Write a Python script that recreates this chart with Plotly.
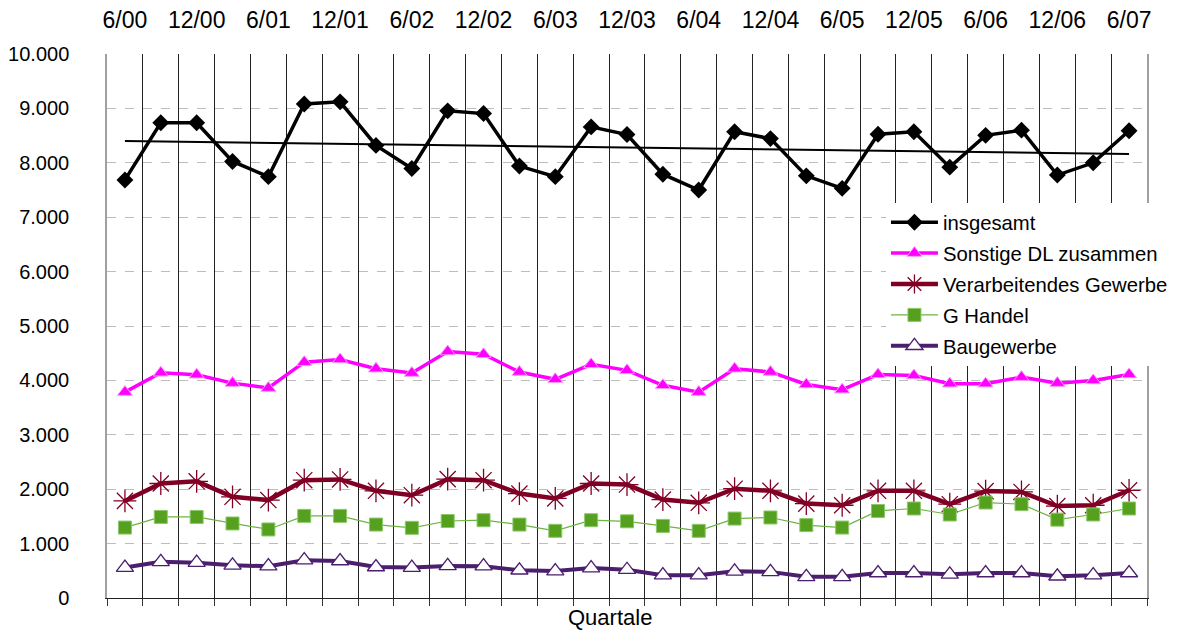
import numpy as np
import plotly.graph_objects as go

quarters = [
    "6/00", "9/00", "12/00", "3/01", "6/01", "9/01", "12/01", "3/02",
    "6/02", "9/02", "12/02", "3/03", "6/03", "9/03", "12/03", "3/04",
    "6/04", "9/04", "12/04", "3/05", "6/05", "9/05", "12/05", "3/06",
    "6/06", "9/06", "12/06", "3/07", "6/07",
]

insgesamt = [
    7685, 8735, 8735, 8025, 7745, 9080, 9120, 8320, 7895, 8955,
    8905, 7940, 7745, 8660, 8520, 7790, 7500, 8570, 8445, 7760,
    7530, 8525, 8570, 7920, 8505, 8600, 7775, 8000, 8590,
]
sonstige_dl = [
    3785, 4140, 4105, 3950, 3860, 4335, 4385, 4215, 4135, 4530,
    4480, 4155, 4020, 4295, 4185, 3910, 3785, 4215, 4155, 3925,
    3830, 4110, 4090, 3940, 3940, 4060, 3950, 4000, 4110,
]
verarbeitendes = [
    1785, 2105, 2145, 1860, 1800, 2165, 2180, 1970, 1890, 2185,
    2165, 1920, 1830, 2105, 2085, 1810, 1750, 2010, 1970, 1735,
    1705, 1970, 1970, 1725, 1965, 1950, 1690, 1705, 1980,
]
handel = [
    1295, 1490, 1490, 1370, 1260, 1510, 1510, 1350, 1290, 1415,
    1430, 1350, 1235, 1430, 1410, 1325, 1235, 1460, 1480, 1340,
    1295, 1600, 1645, 1535, 1755, 1725, 1440, 1535, 1645,
]
baugewerbe = [
    560, 665, 650, 600, 585, 695, 680, 570, 560, 590,
    585, 510, 495, 550, 520, 420, 420, 490, 480, 390,
    390, 460, 460, 435, 460, 460, 400, 420, 460,
]

top_labels = quarters[::2]
y_ticks = list(range(0, 10001, 1000))

FONT = "Liberation Sans, Arial, sans-serif"

# linear trend of the total, like the spreadsheet trendline
idx = np.arange(len(insgesamt))
slope, icpt = np.polyfit(idx, insgesamt, 1)
trend = [slope * idx[0] + icpt, slope * idx[-1] + icpt]

fig = go.Figure()

fig.add_trace(go.Scatter(
    x=quarters, y=insgesamt, name="insgesamt", mode="lines+markers",
    legendgroup="a",
    line=dict(color="black", width=3.5),
    marker=dict(symbol="diamond", size=13, color="black"),
))
fig.add_trace(go.Scatter(
    x=[quarters[0], quarters[-1]], y=trend, mode="lines", showlegend=False,
    legendgroup="a",
    line=dict(color="black", width=2), hoverinfo="skip",
))
fig.add_trace(go.Scatter(
    x=quarters, y=sonstige_dl, name="Sonstige DL zusammen", mode="lines+markers",
    legendgroup="b",
    line=dict(color="#FF00FF", width=3.5),
    marker=dict(symbol="triangle-up", size=13, color="#FF00FF",
                line=dict(color="#FF99FF", width=1)),
))
fig.add_trace(go.Scatter(
    x=quarters, y=verarbeitendes, name="Verarbeitendes Gewerbe", mode="lines+markers",
    legendgroup="c",
    line=dict(color="#800025", width=4.5),
    marker=dict(symbol="asterisk-open", size=19, color="#800025",
                line=dict(color="#800025", width=1.3)),
))
fig.add_trace(go.Scatter(
    x=quarters, y=handel, name="G Handel", mode="lines+markers",
    legendgroup="d",
    line=dict(color="#6DB33F", width=1.2),
    marker=dict(symbol="square", size=13, color="#55A01E",
                line=dict(color="#8CC86A", width=1)),
))
fig.add_trace(go.Scatter(
    x=quarters, y=baugewerbe, name="Baugewerbe", mode="lines+markers",
    legendgroup="e",
    line=dict(color="#4B1E6E", width=4),
    marker=dict(symbol="triangle-up", size=15, color="white",
                line=dict(color="#4B1E6E", width=1.3)),
))
# carrier for the top axis labels
fig.add_trace(go.Scatter(
    x=quarters, y=[None] * len(quarters), xaxis="x2", showlegend=False,
    hoverinfo="skip", mode="lines",
))

# the page body adds an 8px offset, margins make up for it
fig.update_layout(
    width=1180, height=635,
    margin=dict(l=99, r=41, t=46, b=45),
    plot_bgcolor="white", paper_bgcolor="white",
    separators=",.",
    font=dict(family=FONT, size=20, color="black"),
    showlegend=True,
    legend=dict(
        x=0.749, y=0.727, xanchor="left", yanchor="top",
        bgcolor="white", borderwidth=0,
        font=dict(family=FONT, size=20.3, color="black"),
        tracegroupgap=1.5, itemwidth=47,
    ),
    xaxis=dict(
        type="category", categoryorder="array", categoryarray=quarters,
        range=[-0.5, len(quarters) - 0.5], automargin=False,
        tickson="boundaries", showticklabels=False,
        ticks="outside", ticklen=7, tickcolor="#333", tickwidth=1,
        showgrid=True, gridcolor="#222", gridwidth=1,
        showline=True, linecolor="#222", linewidth=1.3,
        zeroline=False, fixedrange=True,
    ),
    xaxis2=dict(
        type="category", categoryorder="array", categoryarray=quarters,
        overlaying="x", side="top", matches="x",
        range=[-0.5, len(quarters) - 0.5], automargin=False,
        tickmode="array", tickvals=top_labels, ticktext=top_labels,
        ticks="", showgrid=False, showline=False, zeroline=False,
        ticklabelstandoff=20,
        tickfont=dict(family=FONT, size=23, color="black"),
    ),
    yaxis=dict(
        range=[0, 10000], tickvals=y_ticks, tickformat=",d", automargin=False,
        showgrid=True, gridcolor="#BDBDBD", gridwidth=1, griddash="dash",
        showline=True, linecolor="#A0A0A0", linewidth=1.5, mirror=True,
        zeroline=False, ticks="", ticklabelstandoff=32,
        tickfont=dict(family=FONT, size=20, color="black"),
    ),
    annotations=[dict(
        text="Quartale", xref="paper", yref="paper",
        x=0.4837, y=-0.035, xanchor="center", yanchor="middle",
        showarrow=False, font=dict(family=FONT, size=22, color="black"),
    )],
)

fig.write_html("out.html")
